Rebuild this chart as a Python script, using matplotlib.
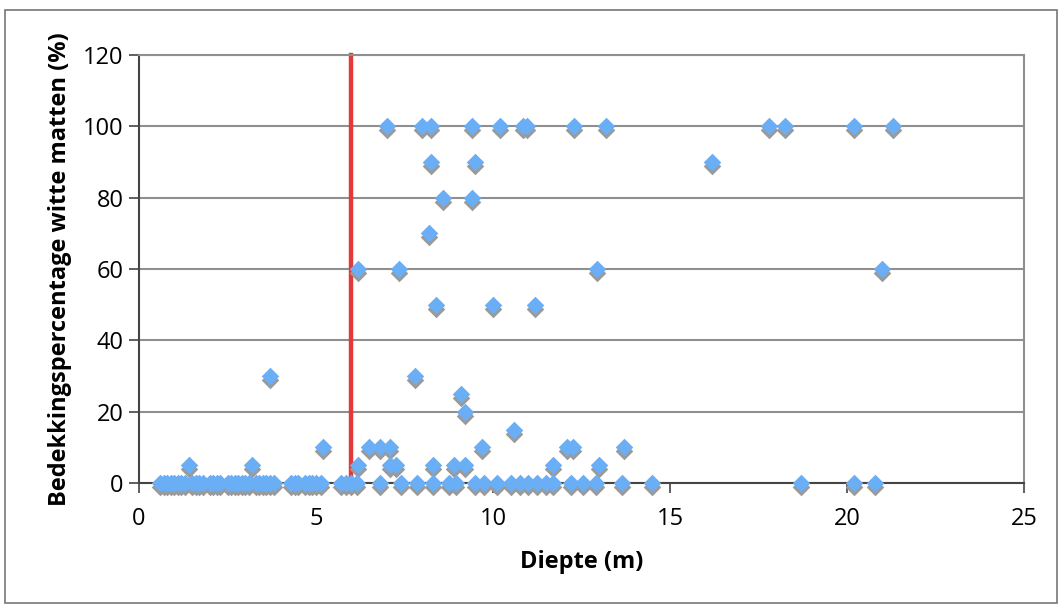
import matplotlib.pyplot as plt
import matplotlib.transforms as mtransforms
from matplotlib.patches import Rectangle

plt.rcParams['font.family'] = ['Open Sans', 'DejaVu Sans']

# diepte (m) en bedekkingspercentage (%) per waarneming
depth_zero = [0.6, 0.7, 0.8, 0.9, 1.0, 1.1, 1.2, 1.3, 1.5, 1.6, 1.7, 1.8, 2.0, 2.1,
              2.2, 2.3, 2.5, 2.6, 2.7, 2.8, 2.9, 3.0, 3.1, 3.3, 3.4, 3.5, 3.6, 3.7,
              3.8, 4.3, 4.4, 4.5, 4.7, 4.8, 4.9, 5.0, 5.15, 5.7, 5.85, 6.0, 6.15,
              6.8, 7.4, 7.85, 8.3, 8.75, 8.95, 9.5, 9.75, 10.1, 10.5, 10.75, 11.0,
              11.25, 11.5, 11.7, 12.2, 12.55, 12.9, 13.65, 14.5, 18.7, 20.2, 20.8]
depth_pos = [7.0, 8.0, 8.25, 9.4, 10.2, 10.85, 10.95, 12.3, 13.2, 17.8, 18.25, 20.2, 21.3,
             8.25, 9.5, 16.2,
             8.6, 9.4,
             8.2,
             6.2, 7.35, 12.95, 21.0,
             8.4, 10.0, 11.2,
             3.7, 7.8,
             9.1, 9.2, 10.6,
             5.2, 6.5, 6.8, 7.1, 9.7, 12.1, 12.25, 13.7,
             1.4, 3.2, 6.2, 7.1, 7.25, 8.3, 8.9, 9.2, 11.7, 13.0]
cover_pos = [100] * 13 + [90] * 3 + [80] * 2 + [70] + [60] * 4 + [50] * 3 + \
            [30] * 2 + [25, 20, 15] + [10] * 8 + [5] * 10

depth = depth_zero + depth_pos
cover = [0] * len(depth_zero) + cover_pos
grens = 6  # rode lijn

fig = plt.figure(figsize=(10.59, 6.06), dpi=100)
fig.patches.append(Rectangle((5 / 1059, 3 / 606), 1052 / 1059, 593 / 606,
                             transform=fig.transFigure, fill=False,
                             edgecolor='#777777', linewidth=1.2))
ax = fig.add_axes([139 / 1059, 1 - 483 / 606, 885 / 1059, 428 / 606])

ax.set_xlim(0, 25)
ax.set_ylim(0, 120)
ax.set_yticks(range(0, 121, 20))
ax.set_xticks(range(0, 26, 5))
ax.yaxis.grid(True, color='#8f8f8f', linewidth=1.5)
ax.set_axisbelow(True)

for s in ['top', 'right']:
    ax.spines[s].set_color('#8f8f8f')
    ax.spines[s].set_linewidth(1.5)
for s in ['left', 'bottom']:
    ax.spines[s].set_color('#444444')
    ax.spines[s].set_linewidth(1.5)

ax.tick_params(axis='both', labelsize=17, color='#444444', width=1.2,
               length=7, pad=4)
ax.tick_params(axis='x', pad=10)

ax.plot([grens, grens], [0, 120], color='#e23a3a', linewidth=3.2, zorder=2,
        clip_on=False)

shadow = mtransforms.offset_copy(ax.transData, fig=fig, x=0, y=-4, units='dots')
ax.scatter(depth, cover, marker='D', s=80, color='#9a9a9a', linewidths=0,
           transform=shadow, zorder=3, clip_on=False)
ax.scatter(depth, cover, marker='D', s=80, color='#6aaef5', linewidths=0,
           zorder=4, clip_on=False)

ax.set_xlabel('Diepte (m)', fontsize=17, fontweight='bold', labelpad=14)
ax.set_ylabel('Bedekkingspercentage witte matten (%)', fontsize=17,
              fontweight='bold', labelpad=8)

fig.savefig('out.png', dpi=100)
